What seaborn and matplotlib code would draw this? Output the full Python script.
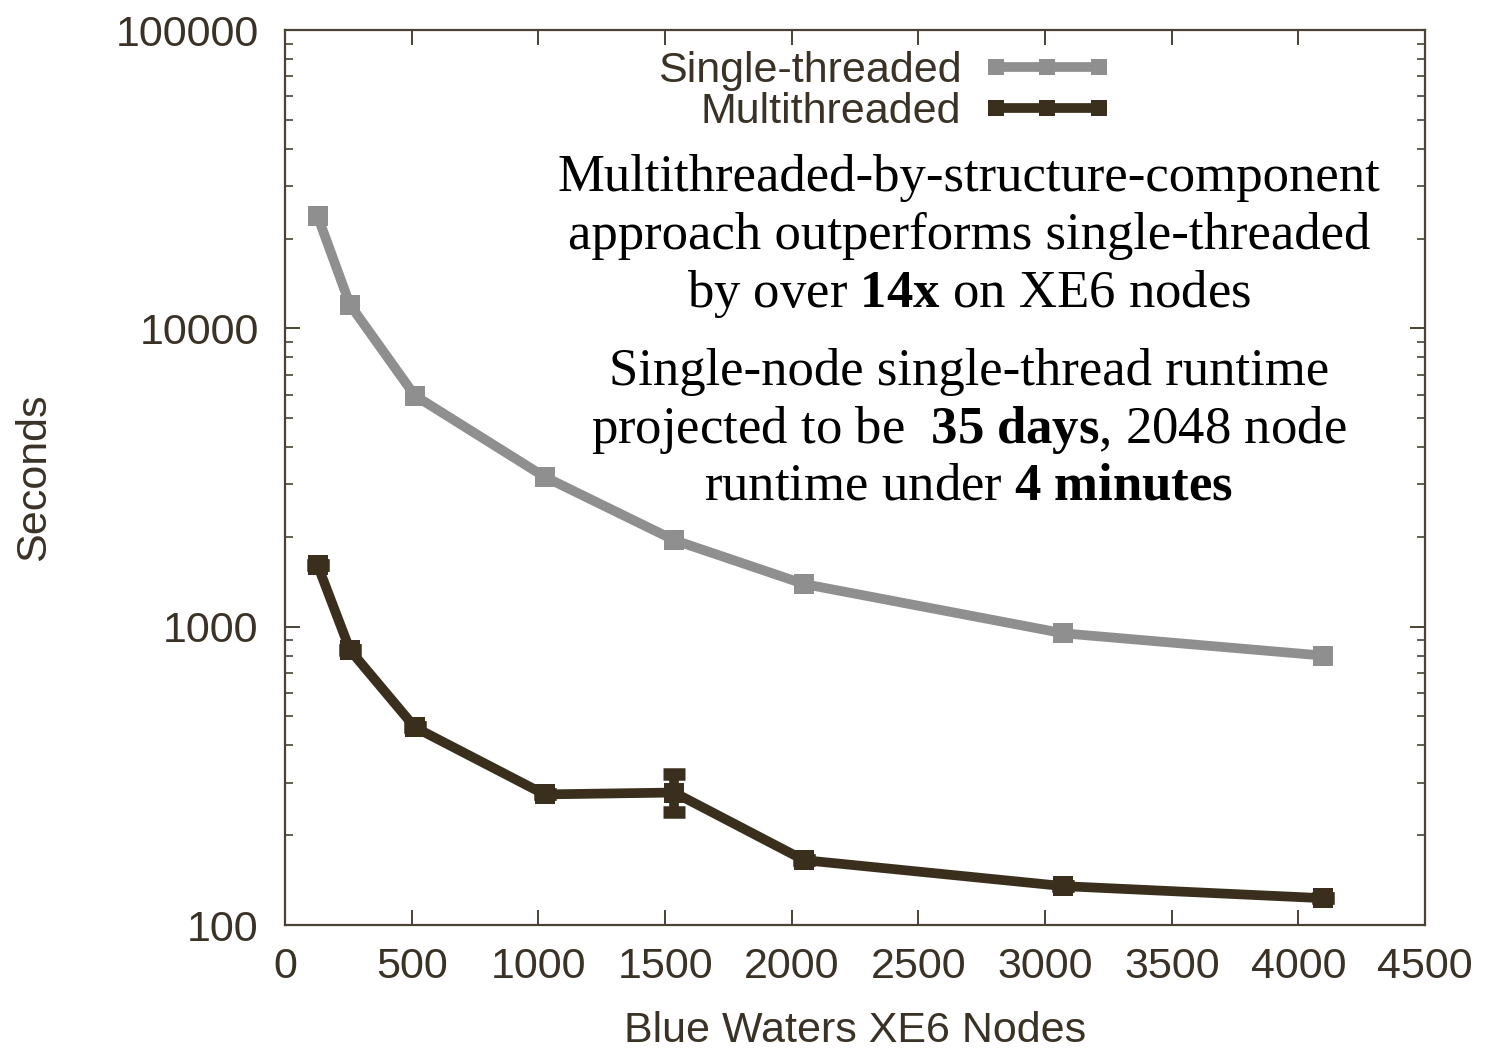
import matplotlib
matplotlib.use("Agg")
import matplotlib.pyplot as plt
import matplotlib.ticker as mticker
import numpy as np
import pandas as pd
import seaborn as sns

# ---- data ----
nodes = [128, 256, 512, 1024, 1536, 2048, 3072, 4096]
single_threaded = [23800, 12000, 5950, 3180, 1950, 1390, 950, 800]
multithreaded = [1610, 835, 460, 274, 278, 165, 135, 123]
multi_err_low = [0, 0, 0, 0, 38, 0, 0, 0]
multi_err_high = [0, 0, 0, 0, 42, 0, 0, 0]
single_err_low = [0, 0, 0, 120, 0, 0, 0, 0]
single_err_high = [0, 0, 0, 130, 0, 0, 0, 0]
xticks = [0, 500, 1000, 1500, 2000, 2500, 3000, 3500, 4000, 4500]
yticks = [100, 1000, 10000, 100000]
series_names = ["Single-threaded", "Multithreaded"]
notes = [
    "Multithreaded-by-structure-component",
    "approach outperforms single-threaded",
    r"by over $\mathbf{14x}$ on XE6 nodes",
    "Single-node single-thread runtime",
    r"projected to be  $\mathbf{35\ days}$, 2048 node",
    r"runtime under $\mathbf{4\ minutes}$",
]

sns.set_theme(style="ticks")
plt.rcParams["font.family"] = ["Liberation Sans", "DejaVu Sans"]
plt.rcParams["mathtext.fontset"] = "custom"
plt.rcParams["mathtext.rm"] = "Liberation Serif"
plt.rcParams["mathtext.it"] = "Liberation Serif:italic"
plt.rcParams["mathtext.bf"] = "Liberation Serif:bold"

axis_col = "#4a4236"
text_col = "#3a3226"
c_single = "#8f8f8f"
c_multi = "#3a2f1d"

fig = plt.figure(figsize=(14.85, 10.49), dpi=100)
ax = fig.add_axes([0.192, 0.1182, 0.7677, 0.8532])

df = pd.DataFrame({"nodes": nodes, "single": single_threaded, "multi": multithreaded})

sns.lineplot(data=df, x="nodes", y="single", ax=ax, color=c_single, linewidth=7,
             marker="s", markersize=14, markeredgewidth=0, label=series_names[0])
sns.lineplot(data=df, x="nodes", y="multi", ax=ax, color=c_multi, linewidth=7,
             marker="s", markersize=14, markeredgewidth=0, label=series_names[1])
ax.errorbar(nodes, single_threaded, yerr=[single_err_low, single_err_high], fmt="none",
            ecolor=c_single, elinewidth=7, capsize=0)
ax.errorbar(nodes, multithreaded, yerr=[multi_err_low, multi_err_high], fmt="none",
            ecolor=c_multi, elinewidth=7, capsize=8, capthick=9)

ax.set_yscale("log")
ax.set_xlim(0, 4500)
ax.set_ylim(100, 100000)
ax.set_xticks(xticks)
ax.set_yticks(yticks)
ax.yaxis.set_major_formatter(mticker.FuncFormatter(lambda v, p: f"{int(round(v))}"))
ax.yaxis.set_minor_locator(mticker.LogLocator(base=10, subs=np.arange(2, 10)))
ax.yaxis.set_minor_formatter(mticker.NullFormatter())

for s in ax.spines.values():
    s.set_visible(True)
    s.set_color(axis_col)
    s.set_linewidth(1.6)

ax.tick_params(axis="both", which="major", direction="in", length=11, width=1.4,
               color=axis_col, labelcolor=text_col, labelsize=31,
               top=True, right=True)
ax.tick_params(axis="y", which="major", pad=19)
ax.tick_params(axis="x", which="major", pad=16)
ax.tick_params(axis="y", which="minor", direction="in", length=6, width=1.2,
               color=axis_col, right=True)

ax.set_xlabel("Blue Waters XE6 Nodes", fontsize=31, color=text_col, labelpad=17)
ax.set_ylabel("Seconds", fontsize=31, color=text_col, labelpad=44)

leg = ax.legend(loc="upper right", bbox_to_anchor=(1112 / 1485, 1 - 51 / 1049),
                bbox_transform=fig.transFigure, frameon=False, markerfirst=False,
                fontsize=31, numpoints=3, handlelength=3.0, handletextpad=0.5,
                labelspacing=0.02, borderpad=0, borderaxespad=0)
for t in leg.get_texts():
    t.set_color(text_col)
for h in leg.legend_handles:
    h.set_markersize(11)

line_y = [178, 236, 294, 372, 430, 487]
for txt, yy in zip(notes, line_y):
    fig.text(969 / 1485, 1 - yy / 1049, txt, ha="center", va="center",
             fontsize=38, family="Liberation Serif", color="black")

fig.savefig("out.png", dpi=100)
